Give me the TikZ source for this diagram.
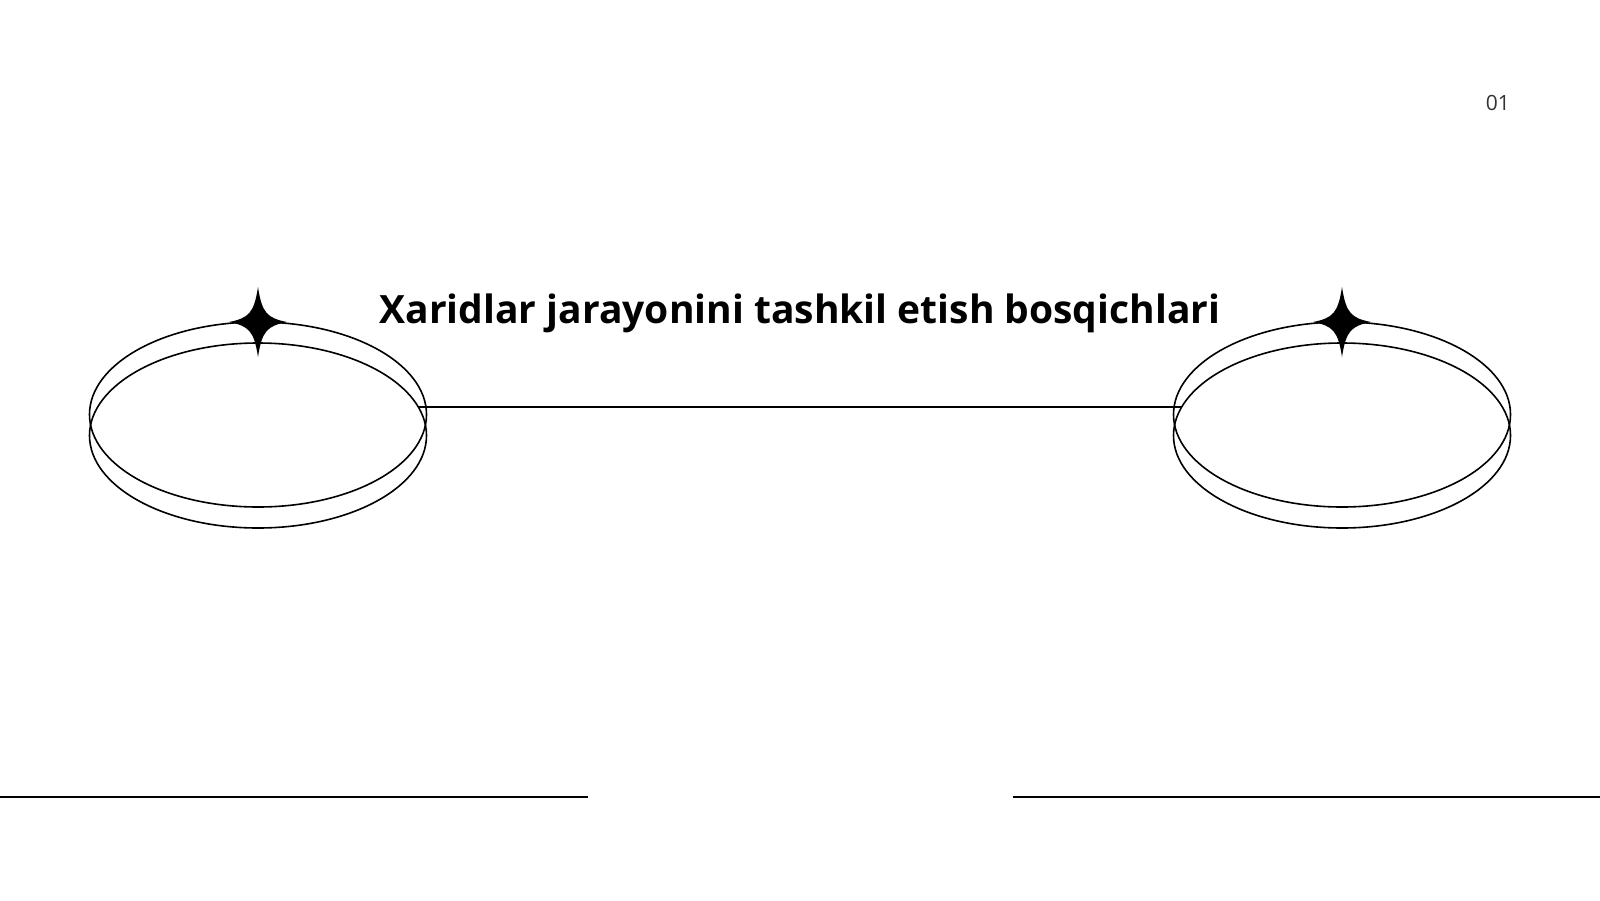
\documentclass[tikz,border=0pt]{standalone}
\usepackage{fontspec}
\setmainfont{Open Sans}
\usetikzlibrary{shapes.geometric}
\tikzset{ring/.style={draw,ellipse,line width=1.6pt,minimum width=337pt,minimum height=185pt,inner sep=0pt},
rule/.style={line width=1.6pt}}
\begin{document}
\begin{tikzpicture}[x=1pt,y=-1pt]
\useasboundingbox[fill=white](0,0) rectangle (1600,900);
\foreach \n/\cx in {l/258,r/1342}{
\node[ring](\n a) at (\cx,414.5){};
\node[ring](\n b) at (\cx,435.5){};
\fill[shift={(\cx,322)}](0,-35) .. controls (4,-9) and (9,-4) .. (29,0) .. controls (9,4) and (4,9) .. (0,35)
 .. controls (-4,9) and (-9,4) .. (-29,0) .. controls (-9,-4) and (-4,-9) .. cycle;
}
\draw[line width=1.6pt](lb.10)--(rb.170 |- lb.10);
\node[font=\bfseries\fontsize{39}{46}\selectfont,anchor=base,inner sep=0pt](title) at (800,323){Xaridlar jarayonini tashkil etish bosqichlari};
\node[font=\fontsize{21}{25}\selectfont,text=black!80,anchor=base east,inner sep=0pt](page) at (1510,110){01};
\coordinate(bl1) at (0,797);
\coordinate(bl2) at (588,797);
\coordinate(br1) at (1013,797);
\coordinate(br2) at (1600,797);
\draw[rule](bl1)--(bl2);
\draw[rule](br1)--(br2);
\end{tikzpicture}
\end{document}
